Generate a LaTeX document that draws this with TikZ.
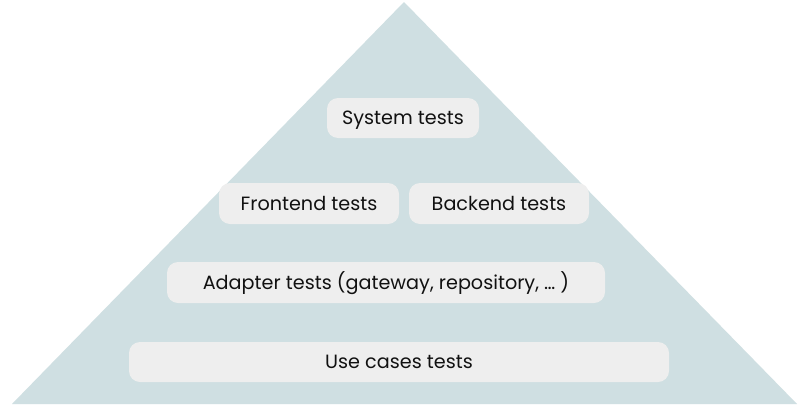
\documentclass[tikz,border=0pt]{standalone}
\usepackage{fontspec}
\setmainfont{Poppins}
\definecolor{tri}{HTML}{CFDFE2}
\definecolor{boxc}{HTML}{EEEEEE}
\definecolor{txt}{HTML}{111111}
\begin{document}
\begin{tikzpicture}[x=1pt,y=-1pt,
  tbox/.style={fill=boxc,rounded corners=11pt,inner sep=0pt,text=txt,
    text height=14pt,text depth=0.6pt,font=\fontsize{19.2}{22}\selectfont}]
\useasboundingbox (0,0) rectangle (800,407);
\fill[white] (0,0) rectangle (800,407);
\fill[tri] (404,2) -- (797,404) -- (12,404) -- cycle;
\node[tbox,minimum width=152pt,minimum height=40pt] (sys) at (403,118) {System tests};
\node[tbox,minimum width=180pt,minimum height=41pt] (fe) at (309,203.5) {Frontend tests};
\node[tbox,minimum width=180pt,minimum height=41pt] (be) at (499,203.5) {Backend tests};
\node[tbox,minimum width=438pt,minimum height=41pt] (ad) at (386,282.5) {Adapter tests (gateway, repository, \dots\ )};
\node[tbox,minimum width=540pt,minimum height=40pt] (uc) at (399,362) {Use cases tests};
\end{tikzpicture}
\end{document}
